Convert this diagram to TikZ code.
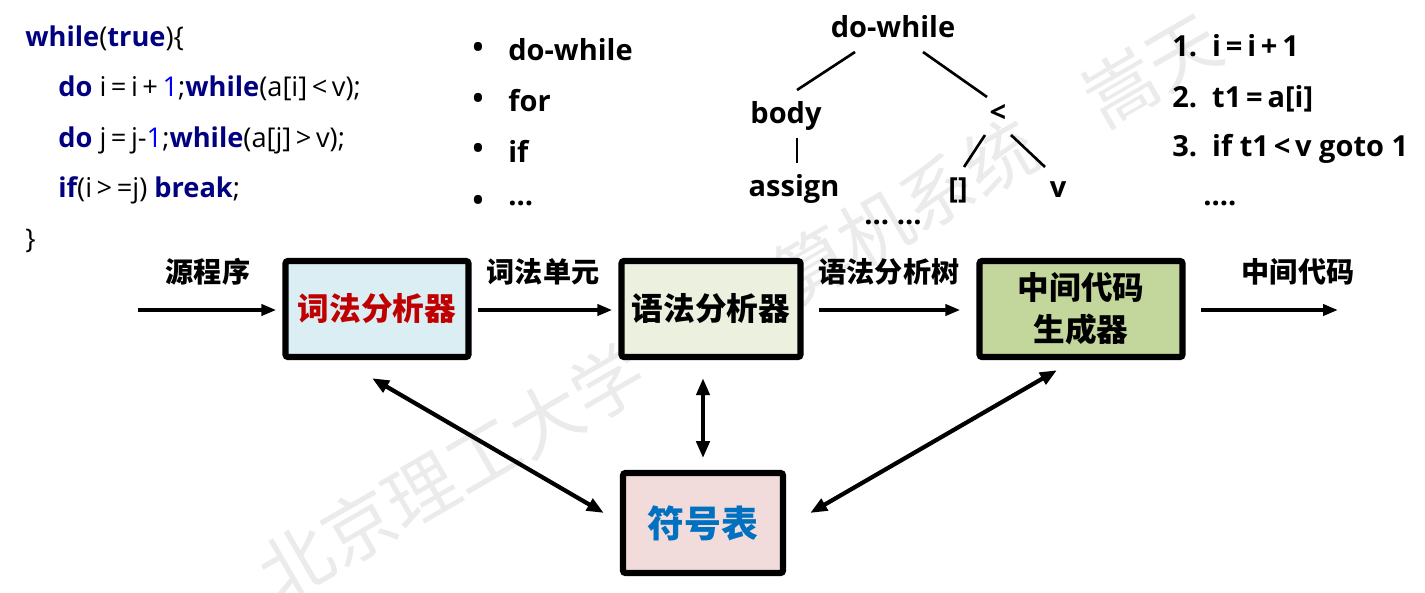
\documentclass[tikz,border=0pt]{standalone}
\usepackage{fontspec}
\setmainfont{Open Sans}
\newfontfamily\cjk{Noto Sans CJK SC}
\usetikzlibrary{arrows.meta,calc}
\definecolor{kw}{HTML}{000080}
\definecolor{num}{HTML}{0000FF}
\definecolor{lexfill}{HTML}{DAEEF3}
\definecolor{synfill}{HTML}{EBF1DE}
\definecolor{genfill}{HTML}{C3D69B}
\definecolor{symfill}{HTML}{F2DCDB}
\definecolor{lexred}{HTML}{C00000}
\definecolor{symblue}{HTML}{0070C0}
\newcommand{\kwd}[1]{{\color{kw}\bfseries #1}}
\newcommand{\nm}[1]{{\color{num}#1}}
\newcommand{\op}[1]{\,#1\,}
\begin{document}
\begin{tikzpicture}[x=0.02cm,y=-0.02cm,
  code/.style={anchor=base west,inner sep=0pt,font=\fontsize{15.5}{18}\selectfont},
  bold/.style={inner sep=0pt,font=\fontsize{16.5}{19}\selectfont\bfseries},
  treeline/.style={line width=1.5pt},
  stage/.style={draw=black,line width=3.6pt,rounded corners=1.5pt,inner sep=0pt,align=center},
  flow/.style={line width=2.4pt,-{Triangle[length=0.3cm,width=0.22cm]}},
  both/.style={line width=2.4pt,{Triangle[length=0.34cm,width=0.26cm]}-{Triangle[length=0.34cm,width=0.26cm]}},
  lbl/.style={inner sep=0pt,font=\cjk\bfseries\fontsize{16}{18}\selectfont},
  wm/.style={inner sep=0pt,text=black!8,font=\cjk\fontsize{41}{44}\selectfont}]
\useasboundingbox (0,0) rectangle (1425,592);
% watermark
\node[wm,rotate=30] (wm1) at (452,473) {北京理工大学};
\node[wm,rotate=30] (wm2) at (875,229) {计算机系统};
\node[wm,rotate=30] (wm3) at (1152,70) {嵩天};
% code
\node[code] (c1) at (25,46) {\kwd{while}(\kwd{true})\{};
\node[code] (c2) at (58,96) {\kwd{do} i\op{=}i\op{+}\nm{1};\kwd{while}(a[i]\op{<}v);};
\node[code] (c3) at (58,147) {\kwd{do} j\op{=}j-\nm{1};\kwd{while}(a[j]\op{>}v);};
\node[code] (c4) at (58,197) {\kwd{if}(i\op{>}=j) \kwd{break};};
\node[code] (c5) at (25,248) {\}};
% bullets
\foreach \y/\t [count=\i] in {50/do-while,101/for,151/if,203/\dots}{
  \node[bold,anchor=center] (b\i) at (478,\y) {\textbullet};
  \node[bold,anchor=west] (bt\i) at (508,\y) {\t};
}
% tree
\node[bold] (dw) at (893,27) {do-while};
\node[bold] (body) at (786,116) {body};
\node[bold] (lt) at (998,113) {<};
\node[bold] (asg) at (794,189) {assign};
\node[bold] (br) at (958,190) {[]};
\node[bold] (vv) at (1058,190) {v};
\node[bold] (dots) at (893,222) {\dots\ \dots};
\draw[treeline] (855,52) -- (797,90);
\draw[treeline] (923,52) -- (987,97);
\draw[treeline] (797,138) -- (797,163);
\draw[treeline] (985,135) -- (964,167);
\draw[treeline] (1011,135) -- (1045,167);
% right list
\node[bold,anchor=west] (l1) at (1172,46) {1.\ \ i\op{=}i\op{+}1};
\node[bold,anchor=west] (l2) at (1172,99) {2.\ \ t1\op{=}a[i]};
\node[bold,anchor=west] (l3) at (1172,149) {3.\ \ if t1\op{<}v goto 1};
\node[bold,anchor=west] (l4) at (1203,203) {....};
% stages
\node[stage,fill=lexfill,minimum width=3.66cm,minimum height=1.92cm,
  font=\cjk\bfseries\fontsize{18}{22}\selectfont,text=lexred] (lex) at (377,309) {词法分析器};
\node[stage,fill=synfill,minimum width=3.58cm,minimum height=1.92cm,
  font=\cjk\bfseries\fontsize{18}{22}\selectfont] (syn) at (711,309) {语法分析器};
\node[stage,fill=genfill,minimum width=4.06cm,minimum height=1.92cm,
  font=\cjk\bfseries\fontsize{18}{24}\selectfont] (gen) at (1081,309) {中间代码\\生成器};
\node[stage,fill=symfill,minimum width=3.2cm,minimum height=2.0cm,
  font=\cjk\bfseries\fontsize{21}{24}\selectfont,text=symblue] (sym) at (703,523) {符号表};
% flow arrows
\coordinate (src) at (138,310);
\coordinate (out) at (1338,310);
\draw[flow] (src) -- ($(lex.west)+(-6,1)$);
\draw[flow] ($(lex.east)+(6,1)$) -- ($(syn.west)+(-6,1)$);
\draw[flow] ($(syn.east)+(15,1)$) -- ($(gen.west)+(-16,1)$);
\draw[flow] ($(gen.east)+(15,1)$) -- (out);
\node[lbl] (t1) at (208,272) {源程序};
\node[lbl] (t2) at (543,272) {词法单元};
\node[lbl] (t3) at (889,272) {语法分析树};
\node[lbl] (t4) at (1298,272) {中间代码};
% symbol table links
\draw[both] ($(lex.south)+(-5,18)$) -- ($(sym.west)+(-16,-10)$);
\draw[both] ($(syn.south)+(-8,18)$) -- ($(syn.south)+(-8,98)$);
\draw[both] ($(gen.south)+(-24,10)$) -- ($(sym.east)+(24,-10)$);
\end{tikzpicture}
\end{document}
